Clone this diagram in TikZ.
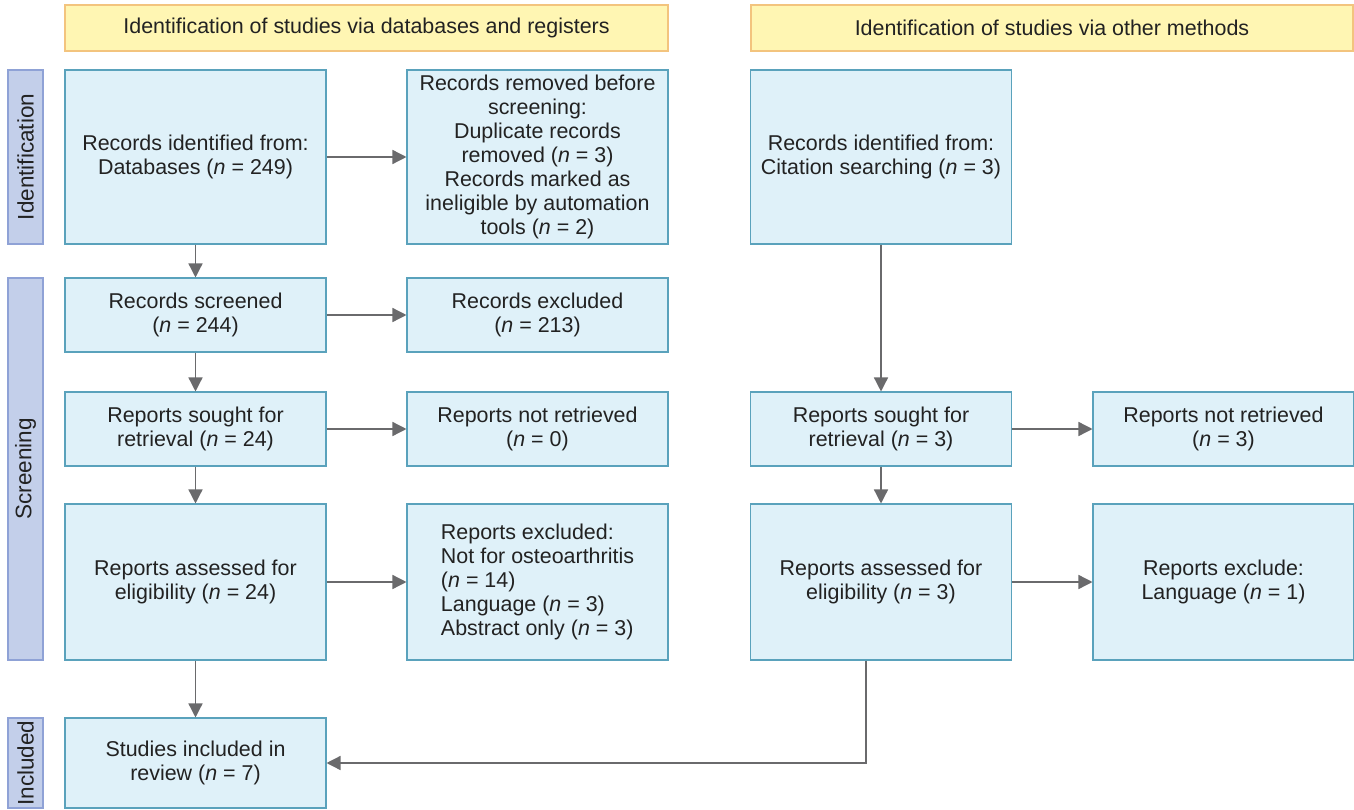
\documentclass[tikz,border=0pt]{standalone}
\usepackage{fontspec}
\setmainfont{Liberation Sans}
\usepackage{tikz}
\usetikzlibrary{arrows.meta,positioning}
\definecolor{boxfill}{HTML}{DFF1F9}
\definecolor{boxline}{HTML}{5AA2BC}
\definecolor{headfill}{HTML}{FFF6B3}
\definecolor{headline}{HTML}{F3C47E}
\definecolor{sidefill}{HTML}{C3CFEA}
\definecolor{sideline}{HTML}{8FA2D6}
\definecolor{arrowgray}{HTML}{6A6A6C}
\definecolor{textgray}{HTML}{222222}

\begin{document}
\begin{tikzpicture}[
    font=\fontsize{12.2}{13.7}\selectfont, text=textgray,
    flowbox/.style={draw=boxline, fill=boxfill, line width=0.6pt, inner sep=0pt, minimum width=5.22cm, align=center},
    headbox/.style={draw=headline, fill=headfill, line width=0.8pt, inner sep=0pt, minimum height=0.92cm},
    sidebox/.style={draw=sideline, fill=sidefill, line width=0.6pt, inner sep=0pt, minimum width=0.70cm, rotate=90, font=\fontsize{12.8}{14}\selectfont},
    flow/.style={-{Triangle[length=8pt,width=8pt]}, draw=arrowgray, line width=0.8pt}
]
    \useasboundingbox (0,0) rectangle (27.08,-16.2);

    % headers
    \node[headbox, minimum width=12.06cm] (headdb) at (7.33,-0.56) {Identification of studies via databases and registers};
    \node[headbox, minimum width=12.04cm] (headother) at (21.04,-0.56) {Identification of studies via other methods};

    % phase bars
    \node[sidebox, minimum width=3.48cm, minimum height=0.70cm] (phaseid) at (0.51,-3.14) {Identification};
    \node[sidebox, minimum width=7.64cm, minimum height=0.70cm] (phasescr) at (0.51,-9.38) {Screening};
    \node[sidebox, minimum width=1.80cm, minimum height=0.70cm] (phaseinc) at (0.51,-15.26) {Included};

    % databases and registers
    \node[flowbox, minimum height=3.48cm] (identified) at (3.91,-3.14) {Records identified from:\\Databases (\textit{n} = 249)};
    \node[flowbox, minimum height=3.48cm] (removed) at (10.75,-3.14) {Records removed before\\screening:\\Duplicate records\\removed (\textit{n} = 3)\\Records marked as\\ineligible by automation\\tools (\textit{n} = 2)};
    \node[flowbox, minimum height=1.48cm] (screened) at (3.91,-6.30) {Records screened\\(\textit{n} = 244)};
    \node[flowbox, minimum height=1.48cm] (excluded) at (10.75,-6.30) {Records excluded\\(\textit{n} = 213)};
    \node[flowbox, minimum height=1.48cm] (sought) at (3.91,-8.58) {Reports sought for\\retrieval (\textit{n} = 24)};
    \node[flowbox, minimum height=1.48cm] (notretr) at (10.75,-8.58) {Reports not retrieved\\(\textit{n} = 0)};
    \node[flowbox, minimum height=3.12cm] (assessed) at (3.91,-11.64) {Reports assessed for\\eligibility (\textit{n} = 24)};
    \node[flowbox, minimum height=3.12cm, align=left] (repexcl) at (10.75,-11.64) {Reports excluded:\\Not for osteoarthritis\\(\textit{n} = 14)\\Language (\textit{n} = 3)\\Abstract only (\textit{n} = 3)};
    \node[flowbox, minimum height=1.80cm] (included) at (3.91,-15.26) {Studies included in\\review (\textit{n} = 7)};

    % other methods
    \node[flowbox, minimum height=3.48cm] (citation) at (17.62,-3.14) {Records identified from:\\Citation searching (\textit{n} = 3)};
    \node[flowbox, minimum height=1.48cm] (soughtcit) at (17.62,-8.58) {Reports sought for\\retrieval (\textit{n} = 3)};
    \node[flowbox, minimum height=1.48cm] (notretrcit) at (24.47,-8.58) {Reports not retrieved\\(\textit{n} = 3)};
    \node[flowbox, minimum height=3.12cm] (assessedcit) at (17.62,-11.64) {Reports assessed for\\eligibility (\textit{n} = 3)};
    \node[flowbox, minimum height=3.12cm] (exclcit) at (24.47,-11.64) {Reports exclude:\\Language (\textit{n} = 1)};

    \coordinate (turn) at (17.32,-15.26);

    % connectors
    \draw[flow] (identified) -- (removed);
    \draw[flow] (identified) -- (screened);
    \draw[flow] (screened) -- (excluded);
    \draw[flow] (screened) -- (sought);
    \draw[flow] (sought) -- (notretr);
    \draw[flow] (sought) -- (assessed);
    \draw[flow] (assessed) -- (repexcl);
    \draw[flow] (assessed) -- (included);

    \draw[flow] (citation) -- (soughtcit);
    \draw[flow] (soughtcit) -- (notretrcit);
    \draw[flow] (soughtcit) -- (assessedcit);
    \draw[flow] (assessedcit) -- (exclcit);
    \draw[flow] (assessedcit.south -| turn) -- (turn) -- (included);
\end{tikzpicture}
\end{document}
